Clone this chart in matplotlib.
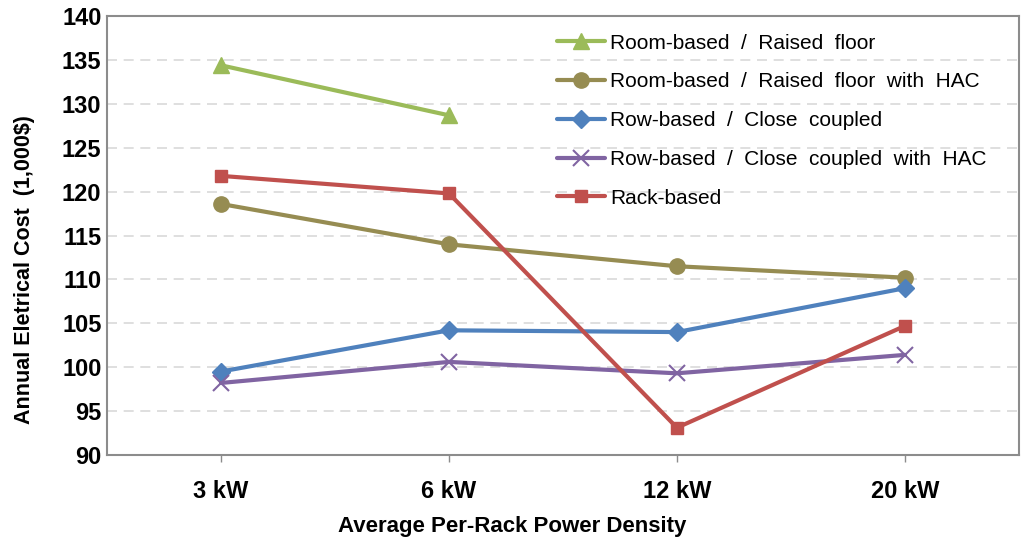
import matplotlib.pyplot as plt

plt.rcParams["font.family"] = ["Liberation Sans", "DejaVu Sans"]

categories = ["3 kW", "6 kW", "12 kW", "20 kW"]
raised_floor = [134.4, 128.7, None, None]
raised_floor_hac = [118.6, 114.0, 111.5, 110.2]
row_close = [99.5, 104.2, 104.0, 109.0]
row_close_hac = [98.2, 100.6, 99.3, 101.4]
rack_based = [121.8, 119.8, 93.1, 104.7]
y_ticks = list(range(90, 141, 5))

series = [
    ("Room-based  /  Raised  floor", raised_floor, "#9BBB59", "^"),
    ("Room-based  /  Raised  floor  with  HAC", raised_floor_hac, "#968C52", "o"),
    ("Row-based  /  Close  coupled", row_close, "#4F81BD", "D"),
    ("Row-based  /  Close  coupled  with  HAC", row_close_hac, "#8064A2", "x"),
    ("Rack-based", rack_based, "#C0504D", "s"),
]

fig = plt.figure(figsize=(10.25, 5.39), dpi=100)
ax = fig.add_axes([0.1044, 0.156, 0.8896, 0.814])

x = list(range(len(categories)))
for label, vals, color, mk in series:
    xs = [i for i, v in zip(x, vals) if v is not None]
    ys = [v for v in vals if v is not None]
    ms = 9 if mk in ("D", "s") else 11
    mew = 1.5 if mk == "x" else 1
    ax.plot(xs, ys, color=color, lw=3, marker=mk, markersize=ms,
            markeredgewidth=mew, markeredgecolor=color, label=label,
            solid_capstyle="round")

ax.set_xlim(-0.5, len(categories) - 0.5)
ax.set_ylim(90, 140)
ax.set_yticks(y_ticks)
ax.set_xticks(x)
ax.set_xticklabels(categories)
ax.yaxis.grid(True, color="#D9D9D9", linestyle=(0, (6, 4)), linewidth=1.2)
ax.set_axisbelow(True)

for s in ax.spines.values():
    s.set_color("#8C8C8C")
    s.set_linewidth(1.5)

ax.tick_params(axis="y", length=0, pad=4, labelsize=17)
ax.tick_params(axis="x", length=5, width=1, color="#8C8C8C", pad=13, labelsize=17)
for t in ax.get_xticklabels() + ax.get_yticklabels():
    t.set_fontweight("bold")

fig.text(0.024, 0.5, "Annual Eletrical Cost  (1,000$)", fontsize=15.5, fontweight="bold",
         rotation=90, ha="center", va="center")
fig.text(0.5, 0.024, "Average Per-Rack Power Density", fontsize=16, fontweight="bold",
         ha="center", va="center")

ax.legend(loc="upper left", bbox_to_anchor=(0.473, 1.003), frameon=False,
          fontsize=15, handlelength=2.3, handletextpad=0.25, labelspacing=0.95)

plt.savefig("out.png", dpi=100)
